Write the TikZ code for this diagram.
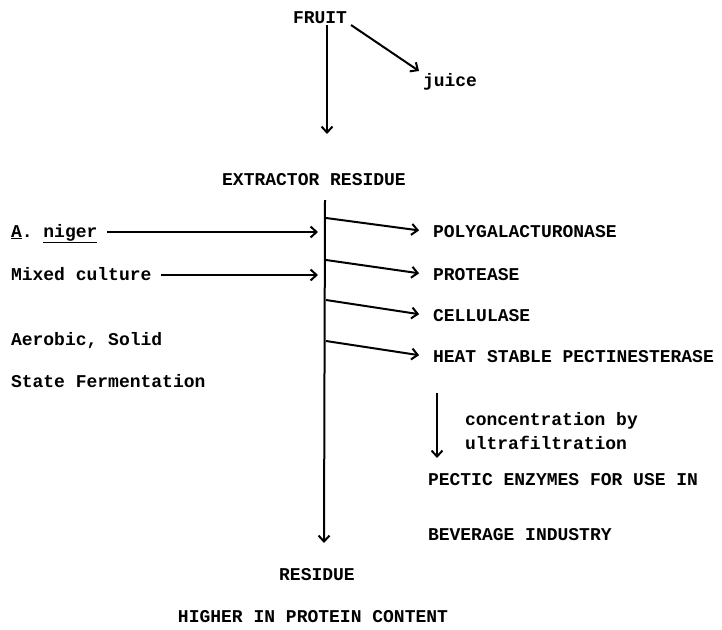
\documentclass[tikz,border=0pt]{standalone}
\usepackage{fontspec}
\setmonofont{Liberation Mono}
\usetikzlibrary{arrows.meta}

\begin{document}
\begin{tikzpicture}[x=1pt, y=-1pt, line width=2pt,
  >={Straight Barb[length=6pt,width=11pt]},
  every node/.style={font=\ttfamily\bfseries\fontsize{18}{20}\selectfont, inner sep=1pt, text height=10pt, text depth=0pt},
  lbl/.style={anchor=west}]
  \useasboundingbox (0,0) rectangle (722,629);
  \node (fruit) at (320,18) {FRUIT};
  \node[lbl] (juice) at (421,81) {juice};
  \node (ext) at (314,180) {EXTRACTOR RESIDUE};
  \node[lbl] (niger) at (9,232) {\underline{A}. \underline{niger}};
  \node[lbl] (mixed) at (9,275) {Mixed culture};
  \node[lbl] (aero) at (9,340) {Aerobic, Solid};
  \node[lbl] (state) at (9,382) {State Fermentation};
  \node[lbl] (pg) at (431,232) {POLYGALACTURONASE};
  \node[lbl] (prot) at (431,275) {PROTEASE};
  \node[lbl] (cell) at (431,316) {CELLULASE};
  \node[lbl] (heat) at (431,357) {HEAT STABLE PECTINESTERASE};
  \node[lbl] (conc1) at (463,420) {concentration by};
  \node[lbl] (conc2) at (463,444) {ultrafiltration};
  \node[lbl] (pect) at (426,480) {PECTIC ENZYMES FOR USE IN};
  \node[lbl] (bev) at (426,535) {BEVERAGE INDUSTRY};
  \node (res) at (317,575) {RESIDUE};
  \node (high) at (313,617) {HIGHER IN PROTEIN CONTENT};

  \coordinate (top) at (325,200);
  \coordinate (bot) at (324,543);
  \coordinate (in1) at (318,232);
  \coordinate (in2) at (318,275);
  \coordinate (b1) at (326,218);
  \coordinate (b2) at (326,260);
  \coordinate (b3) at (326,300);
  \coordinate (b4) at (326,341);
  \coordinate (c0) at (437,393);
  \coordinate (c1) at (437,458);

  \path[->]
  ([xshift=7pt]fruit.south) edge ([xshift=13pt,yshift=39pt]ext.north)
  ([xshift=2pt]fruit.south east) edge ([xshift=-2pt,yshift=3pt]juice.north west)
  (niger.east) edge[shorten <=8pt] (in1)
  (mixed.east) edge[shorten <=8pt] (in2)
  (b1) edge[shorten >=12pt] (pg.west)
  (b2) edge[shorten >=12pt] (prot.west)
  (b3) edge[shorten >=12pt] (cell.west)
  (b4) edge[shorten >=12pt] (heat.west)
  (c0) edge (c1)
  (top) edge (bot)
  ;
\end{tikzpicture}
\end{document}
